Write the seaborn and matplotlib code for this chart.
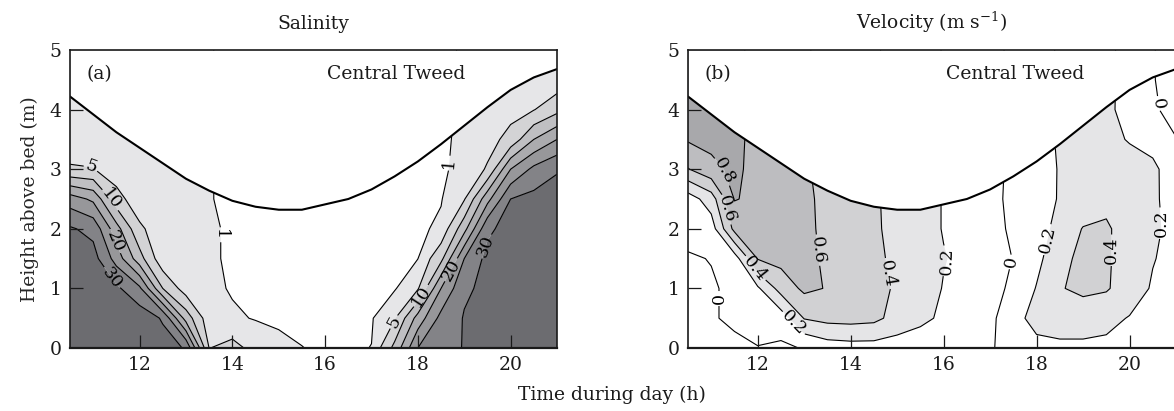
import numpy as np
import matplotlib
matplotlib.use("Agg")
import matplotlib.pyplot as plt
import seaborn as sns

# ---------------------------------------------------------------------------
# Data: Central Tweed estuary, time (h) x height above bed (m)
# ---------------------------------------------------------------------------
time_grid = [10.5, 11.0, 11.5, 12.0, 12.5, 13.0, 13.5, 14.0, 14.5, 15.0, 15.5,
             16.0, 16.5, 17.0, 17.5, 18.0, 18.5, 19.0, 19.5, 20.0, 20.5, 21.0]
height_grid = [0.0, 0.5, 1.0, 1.5, 2.0, 2.5, 3.0, 3.5, 4.0, 4.5, 5.0]

# water surface (m above bed)
surface_time = time_grid
surface_height = [4.22, 3.92, 3.62, 3.36, 3.10, 2.84, 2.64, 2.47, 2.37, 2.32, 2.32,
                  2.41, 2.50, 2.66, 2.88, 3.13, 3.42, 3.73, 4.04, 4.33, 4.54, 4.68]

# salinity, one row per height in height_grid
salinity = [
    [35, 35, 34, 33, 32, 29.6, 4.9, 6.5, 3.5, 1.8, 1.05, 0.6, 0.6, 1.05, 11.5, 25, 27.7, 30.3, 31.5, 32.5, 33, 33.5],
    [35, 34.5, 34, 33, 29.5, 13, 2.0, 1.5, 0.8, 0.5, 0.4, 0.4, 0.4, 0.7, 4.6, 17, 26.6, 30.3, 31.5, 32.5, 33, 33.5],
    [35, 34, 31, 26, 10, 2.5, 1.8, 0.7, 0.4, 0.3, 0.3, 0.3, 0.3, 0.4, 0.7, 4.5, 20, 29.3, 31, 32, 33, 33.5],
    [34, 32, 23, 12, 1.5, 1.4, 1.3, 0.7, 0.3, 0.3, 0.3, 0.3, 0.3, 0.3, 0.5, 0.95, 8.6, 25, 31.5, 32.5, 33, 33.5],
    [30.6, 28.5, 17, 6, 1.8, 1.5, 1.3, 0.7, 0.3, 0.3, 0.3, 0.3, 0.3, 0.3, 0.3, 0.4, 1.6, 13.3, 29, 32, 32.5, 33],
    [22.5, 19, 7, 1.8, 1.5, 1.3, 1.1, 0.6, 0.3, 0.3, 0.3, 0.3, 0.3, 0.3, 0.3, 0.3, 0.8, 4.6, 18.3, 30, 31.5, 32.5],
    [5.6, 5.2, 2.2, 1.6, 1.4, 1.2, 1.1, 0.6, 0.3, 0.3, 0.3, 0.3, 0.3, 0.3, 0.3, 0.4, 0.6, 1.8, 5.5, 20, 26.3, 29.5],
    [2.0, 1.9, 1.7, 1.6, 1.4, 1.2, 1.1, 0.6, 0.3, 0.3, 0.3, 0.3, 0.3, 0.3, 0.3, 0.4, 0.6, 1.5, 3.3, 6.5, 15, 20],
    [1.8, 1.7, 1.6, 1.5, 1.4, 1.2, 1.1, 0.6, 0.3, 0.3, 0.3, 0.3, 0.3, 0.3, 0.3, 0.4, 0.6, 1.3, 2.0, 3.5, 4.8, 8.5],
    [1.7, 1.6, 1.5, 1.5, 1.4, 1.2, 1.1, 0.6, 0.3, 0.3, 0.3, 0.3, 0.3, 0.3, 0.3, 0.4, 0.6, 1.2, 1.6, 2.3, 2.8, 2.0],
    [1.6, 1.5, 1.5, 1.5, 1.4, 1.2, 1.1, 0.6, 0.3, 0.3, 0.3, 0.3, 0.3, 0.3, 0.3, 0.4, 0.6, 1.2, 1.5, 2.0, 2.4, 2.0],
]

# along-channel velocity (m/s, ebb positive), one row per height
velocity = [
    [-0.10, -0.06, -0.05, -0.005, -0.03, 0.01, 0.10, 0.12, 0.12, 0.10, 0.10, 0.08, 0.06, 0.02, -0.08, -0.15, -0.17, -0.17, -0.16, -0.12, -0.08, -0.05],
    [-0.08, -0.02, 0.04, 0.06, 0.09, 0.41, 0.46, 0.47, 0.45, 0.33, 0.24, 0.17, 0.10, 0.05, -0.14, -0.26, -0.27, -0.27, -0.25, -0.19, -0.15, -0.12],
    [-0.08, -0.03, 0.06, 0.17, 0.48, 0.64, 0.59, 0.50, 0.45, 0.38, 0.30, 0.19, 0.14, 0.07, -0.04, -0.21, -0.385, -0.45, -0.42, -0.30, -0.18, -0.12],
    [-0.03, 0.01, 0.10, 0.61, 0.66, 0.65, 0.57, 0.50, 0.44, 0.36, 0.29, 0.21, 0.15, 0.08, -0.005, -0.15, -0.33, -0.46, -0.43, -0.30, -0.21, -0.14],
    [0.10, 0.10, 0.66, 0.70, 0.68, 0.64, 0.56, 0.50, 0.42, 0.36, 0.28, 0.19, 0.14, 0.06, -0.03, -0.12, -0.26, -0.41, -0.43, -0.30, -0.23, -0.15],
    [0.10, 0.30, 0.81, 0.76, 0.70, 0.64, 0.55, 0.50, 0.42, 0.35, 0.28, 0.19, 0.13, 0.06, -0.05, -0.14, -0.21, -0.27, -0.34, -0.28, -0.22, -0.15],
    [0.59, 0.74, 0.85, 0.72, 0.66, 0.62, 0.55, 0.50, 0.42, 0.35, 0.28, 0.19, 0.13, 0.06, -0.04, -0.13, -0.21, -0.25, -0.27, -0.26, -0.23, -0.12],
    [0.82, 0.86, 0.88, 0.70, 0.66, 0.62, 0.55, 0.50, 0.42, 0.35, 0.28, 0.19, 0.13, 0.06, -0.04, -0.13, -0.22, -0.25, -0.24, -0.19, -0.15, -0.005],
    [0.85, 0.88, 0.88, 0.70, 0.66, 0.62, 0.55, 0.50, 0.42, 0.35, 0.28, 0.19, 0.13, 0.06, -0.04, -0.13, -0.22, -0.25, -0.23, -0.15, -0.02, 0.05],
    [0.86, 0.88, 0.88, 0.70, 0.66, 0.62, 0.55, 0.50, 0.42, 0.35, 0.28, 0.19, 0.13, 0.06, -0.04, -0.13, -0.22, -0.24, -0.22, -0.17, -0.01, 0.08],
    [0.86, 0.88, 0.88, 0.70, 0.66, 0.62, 0.55, 0.50, 0.42, 0.35, 0.28, 0.19, 0.13, 0.06, -0.04, -0.13, -0.22, -0.24, -0.22, -0.17, -0.01, 0.08],
]

salinity_lines = [1, 5, 10, 15, 20, 25, 30]
salinity_fill = [1, 5, 10, 15, 20, 25, 30, 40]
salinity_colors = ["#e6e6e8", "#d3d3d5", "#bfbfc2", "#ababae", "#97979a", "#838387", "#6c6c70"]
salinity_label_pos = [(10.95, 3.0), (11.4, 2.5), (11.5, 1.8), (11.35, 1.15), (13.78, 1.9),
                      (17.45, 0.45), (18.08, 0.87), (18.72, 1.31), (19.5, 1.7), (18.7, 3.1)]

velocity_lines = [-0.4, -0.2, 0.0, 0.2, 0.4, 0.6, 0.8]
velocity_fill = [-1.0, -0.4, -0.2, 0.2, 0.4, 0.6, 0.8, 1.5]
velocity_colors = ["#d1d1d3", "#e5e5e7", "#ffffff", "#e5e5e7", "#d1d1d3", "#bdbdc0", "#a8a8ab"]
velocity_label_pos = [(11.19, 2.95), (11.3, 2.32), (11.9, 1.31), (12.84, 0.47), (11.37, 0.83),
                      (13.27, 1.64), (14.81, 1.25), (15.99, 1.48), (17.42, 1.45), (18.28, 1.81),
                      (19.54, 1.64), (20.61, 2.09), (20.6, 4.1)]

xticks = [12, 14, 16, 18, 20]
yticks = [0, 1, 2, 3, 4, 5]

# ---------------------------------------------------------------------------
sns.set_theme(style="ticks")
plt.rcParams.update({
    "font.family": ["DejaVu Serif"],
    "mathtext.fontset": "dejavuserif",
    "text.color": "#1a1a1a",
})

W, H = 1174, 411
AX_W, AX_H = 487, 298
fig = plt.figure(figsize=(W / 100, H / 100), dpi=100)
ax1 = fig.add_axes([70 / W, 63 / H, AX_W / W, AX_H / H])
ax2 = fig.add_axes([688 / W, 63 / H, 488 / W, AX_H / H])

T, Z = np.meshgrid(time_grid, height_grid)
FS = 13.5
TICK_PX = 13  # inward tick length in pixels
INK = "#1a1a1a"


def panel(ax, field, fill_levels, colors, line_levels, label_pos, fmt, title, tag):
    field = np.asarray(field, dtype=float)
    ax.contourf(T, Z, field, levels=fill_levels, colors=colors, zorder=0.6, antialiased=True)
    cs = ax.contour(T, Z, field, levels=line_levels, colors="black", linewidths=0.8,
                    linestyles="solid", zorder=0.8)
    # blank out everything above the water surface
    ax.fill_between(surface_time, surface_height, 5.0, color="white", zorder=1.0, lw=0)
    sns.lineplot(x=surface_time, y=surface_height, ax=ax, color="black", lw=1.5,
                 zorder=4, estimator=None, sort=False)
    ax.clabel(cs, levels=line_levels, manual=label_pos, inline=True,
              inline_spacing=2, fmt=fmt, fontsize=FS - 1)
    for t in ax.texts:
        t.set_zorder(5)
    ax.set_xlim(10.5, 21)
    ax.set_ylim(0, 5)
    ax.set_xticks(xticks)
    ax.set_yticks(yticks)
    ax.tick_params(axis="both", which="major", direction="in", length=0,
                   labelcolor=INK, labelsize=FS, pad=6)
    # inward tick marks, drawn above the shaded fields
    ax.vlines(xticks, 0, TICK_PX / AX_H, transform=ax.get_xaxis_transform(),
              color=INK, lw=0.9, zorder=7)
    ax.hlines(yticks[1:-1], 0, TICK_PX / AX_W, transform=ax.get_yaxis_transform(),
              color=INK, lw=0.9, zorder=7)
    for s in ax.spines.values():
        s.set_linewidth(1.2)
        s.set_color(INK)
        s.set_visible(True)
        s.set_zorder(8)
    ax.spines["bottom"].set_linewidth(1.6)
    ax.set_title(title, fontsize=FS, pad=15)
    ax.text(10.85, 4.6, tag, fontsize=FS, ha="left", va="center", zorder=6)
    ax.text(16.05, 4.6, "Central Tweed", fontsize=FS, ha="left", va="center", zorder=6)
    ax.set_xlabel("")
    ax.set_ylabel("")


panel(ax1, salinity, salinity_fill, salinity_colors, salinity_lines, salinity_label_pos,
      lambda v: f"{v:g}", "Salinity", "(a)")
panel(ax2, velocity, velocity_fill, velocity_colors, velocity_lines, velocity_label_pos,
      lambda v: f"{abs(v):g}", r"Velocity (m s$^{-1}$)", "(b)")

ax1.set_ylabel("Height above bed (m)", fontsize=FS, labelpad=8)
fig.text(0.521, 0.04, "Time during day (h)", fontsize=FS, ha="center", va="center")

fig.savefig("out.png", dpi=100)
